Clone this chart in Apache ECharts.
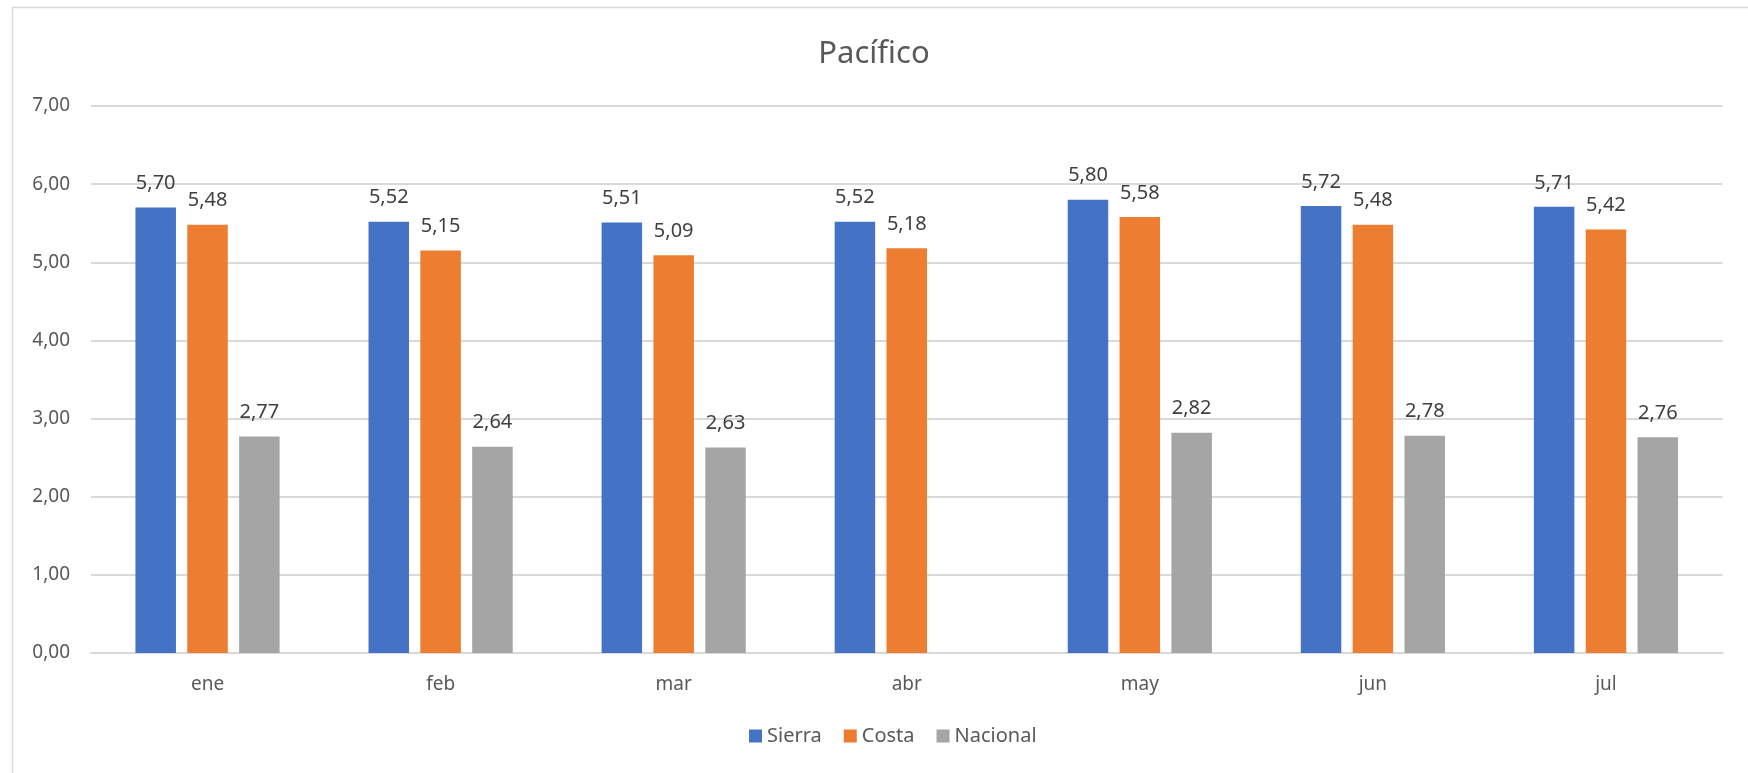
<!DOCTYPE html>
<html>
<head>
<meta charset="utf-8">
<script src="https://cdn.jsdelivr.net/npm/echarts@6/dist/echarts.min.js"></script>
<style>
  html, body { margin: 0; padding: 0; background: #fff; }
  #chart { width: 1748px; height: 773px; }
</style>
</head>
<body>
<div id="chart"></div>
<script>
const months = ["ene", "feb", "mar", "abr", "may", "jun", "jul"];
const sierra = [5.70, 5.52, 5.51, 5.52, 5.80, 5.72, 5.71];
const costa = [5.48, 5.15, 5.09, 5.18, 5.58, 5.48, 5.42];
const nacional = [2.77, 2.64, 2.63, null, 2.82, 2.78, 2.76];

const FONT = "Noto Sans";
const fmt = (v) => Number(v).toFixed(2).replace(".", ",");

function barSeries(name, data, color) {
  return {
    type: "bar",
    name,
    data,
    barWidth: 40.5,
    barGap: "28%",
    itemStyle: { color },
    label: {
      show: true,
      position: "top",
      distance: 14,
      fontFamily: FONT,
      fontSize: 20,
      color: "#404040",
      formatter: (p) => fmt(p.value),
    },
  };
}

const chart = echarts.init(document.getElementById("chart"));

const option = {
  animation: false,
  backgroundColor: "#fff",
  textStyle: { fontFamily: FONT },
  graphic: [
    {
      type: "rect",
      shape: { x: 12.5, y: 7.5, width: 1800, height: 800 },
      style: { fill: "none", stroke: "#D9D9D9", lineWidth: 1.5 },
      silent: true,
    },
  ],
  title: {
    text: "Pacífico",
    left: "center",
    top: 34,
    textStyle: { fontFamily: FONT, fontSize: 31, fontWeight: "normal", color: "#595959" },
  },
  legend: {
    bottom: 22,
    left: 744,
    itemWidth: 13,
    itemHeight: 13,
    itemGap: 22,
    icon: "rect",
    textStyle: { fontFamily: FONT, fontSize: 20, color: "#595959" },
  },
  grid: { left: 91, right: 25.5, top: 106, bottom: 120, containLabel: false },
  xAxis: {
    type: "category",
    data: months,
    axisLine: { show: true, lineStyle: { color: "#D9D9D9", width: 2 } },
    axisTick: { show: false },
    axisLabel: { margin: 22, fontFamily: FONT, fontSize: 19, color: "#595959" },
  },
  yAxis: {
    type: "value",
    min: 0,
    max: 7,
    interval: 1,
    axisLine: { show: false },
    axisTick: { show: false },
    splitLine: { lineStyle: { color: "#D9D9D9", width: 2 } },
    axisLabel: { margin: 21, fontFamily: FONT, fontSize: 19, color: "#595959", formatter: fmt },
  },
  series: [
    barSeries("Sierra", sierra, "#4472C4"),
    barSeries("Costa", costa, "#ED7D31"),
    barSeries("Nacional", nacional, "#A5A5A5"),
  ],
};
chart.setOption(option);
</script>
</body>
</html>
